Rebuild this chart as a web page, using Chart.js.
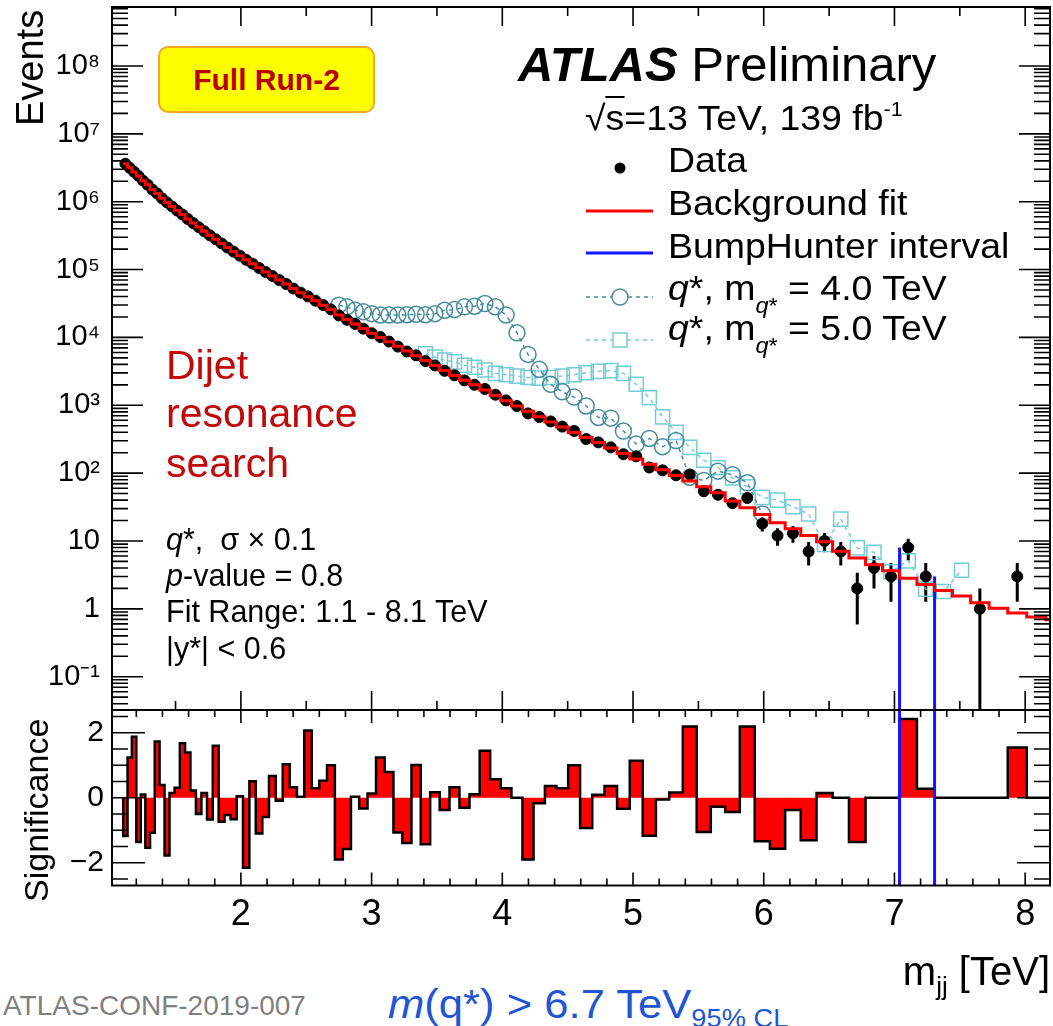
<!DOCTYPE html>
<html>
<head>
<meta charset="utf-8">
<title>Dijet invariant mass</title>
<script src="https://cdn.jsdelivr.net/npm/chart.js@4.4.1/dist/chart.umd.min.js"></script>
<style>
  body { margin: 0; background: #fff; }
  #page { position: relative; width: 1053px; height: 1026px; overflow: hidden;
          font-family: "Liberation Sans", Arial, Helvetica, sans-serif; }
  canvas { position: absolute; left: 0; }
  #mainCanvas { top: 0; }
  #sigCanvas { top: 700px; }
  .t { position: absolute; white-space: nowrap; line-height: 1; color: #000; z-index: 2; }
  .rot { transform: rotate(-90deg); transform-origin: left top; }
  .wide { transform: scaleX(1.07); transform-origin: left center; }
  .leg { font-size: 35px; left: 668px; }
  .info { font-size: 30.5px; left: 166px; }
  .dijet { font-size: 41px; left: 166px; color: #c20808; }
  .leg sub { font-size: 22px; vertical-align: -13px; line-height: 0; }
  #runBox { position: absolute; left: 158px; top: 46px; width: 217px; height: 67px; box-sizing: border-box;
            background: #ffff00; border: 2px solid #f5a623; border-radius: 10px; z-index: 2;
            display: flex; align-items: center; justify-content: center;
            font-weight: bold; font-size: 30px; color: #b80000; }
</style>
</head>
<body>
<div id="page">
  <canvas id="mainCanvas" width="1053" height="712"></canvas>
  <canvas id="sigCanvas" width="1053" height="270"></canvas>

  <div id="runBox">Full Run-2</div>
  <div class="t" style="left:518px; top:40px; font-size:49px;"><b><i>ATLAS</i></b> Preliminary</div>
  <div class="t wide" style="left:585px; top:100px; font-size:35px;">√<span style="border-top:2px solid #000;">s</span>=13 TeV, 139 fb<sup style="font-size:20px; vertical-align:14px; line-height:0;">-1</sup></div>

  <div class="t leg wide" style="top:142px;">Data</div>
  <div class="t leg wide" style="top:185px;">Background fit</div>
  <div class="t leg wide" style="top:228px;">BumpHunter interval</div>
  <div class="t leg wide" style="top:270px;"><i>q</i>*, m<sub><i>q</i>*</sub> = 4.0 TeV</div>
  <div class="t leg wide" style="top:310px;"><i>q</i>*, m<sub><i>q</i>*</sub> = 5.0 TeV</div>

  <div class="t dijet" style="top:345px;">Dijet</div>
  <div class="t dijet" style="top:393px;">resonance</div>
  <div class="t dijet" style="top:443px;">search</div>

  <div class="t info" style="top:524px;"><i>q</i>*,&nbsp;&nbsp;σ × 0.1</div>
  <div class="t info" style="top:560px;"><i>p</i>-value = 0.8</div>
  <div class="t info" style="top:596px;">Fit Range: 1.1 - 8.1 TeV</div>
  <div class="t info" style="top:633px;">|y*| &lt; 0.6</div>

  <div class="t rot" style="left:11px; top:126px; font-size:38px;">Events</div>
  <div class="t rot" style="left:19px; top:902px; font-size:34px;">Significance</div>

  <div class="t" style="right:3px; top:951px; font-size:40px;">m<sub style="font-size:26px; vertical-align:-10px; line-height:0;">jj</sub> [TeV]</div>
  <div class="t" style="left:3px; top:992px; font-size:28px; color:#7f7f7f;">ATLAS-CONF-2019-007</div>
  <div class="t" style="left:388px; top:984px; font-size:40px; color:#2255d4; transform:scaleX(1.09); transform-origin:left center;"><i>m</i>(q*) &gt; 6.7 TeV<sub style="font-size:25px; vertical-align:-9px; line-height:0;">95% CL</sub></div>
</div>

<script>
// dijet mass bin edges [TeV]
const binEdges = [1.100,1.133,1.166,1.200,1.234,1.269,1.305,1.341,1.378,1.416,1.454,1.493,1.533,1.573,1.614,
  1.656,1.698,1.741,1.785,1.830,1.875,1.921,1.968,2.016,2.065,2.114,2.164,2.215,2.267,2.320,2.374,2.429,
  2.485,2.542,2.600,2.659,2.719,2.780,2.842,2.905,2.969,3.034,3.100,3.167,3.235,3.305,3.376,3.448,3.521,
  3.596,3.672,3.749,3.827,3.907,3.988,4.070,4.154,4.239,4.326,4.414,4.504,4.595,4.688,4.782,4.878,4.975,
  5.074,5.175,5.277,5.381,5.487,5.595,5.705,5.817,5.931,6.047,6.164,6.283,6.404,6.527,6.652,6.779,6.908,
  7.039,7.172,7.307,7.444,7.583,7.724,7.867,8.012,8.159,8.308];

// background fit, events per bin
const fitCounts = [3630000,3160000,2750000,2400000,2040000,1780000,1510000,1320000,1120000,977000,
  851000,741000,646000,556000,484000,422000,367000,320000,279000,243000,
  211000,184000,160000,140000,122000,106000,92300,80400,70000,61000,
  52500,45700,39800,34700,29900,25700,21400,18400,15800,13500,
  11500,10000,8610,7410,6310,5370,4570,3850,3240,2750,
  2340,2000,1680,1410,1170,977,813,676,569,479,
  398,335,282,234,195,162,135,112,92.3,76.7,
  63.1,51.3,38.9,30.9,24.5,18.6,15.1,12.0,9.77,7.08,
  5.62,4.47,3.63,2.82,2.29,1.86,1.55,1.23,1.02,0.871,
  0.759,0.692];

// observed events per bin
const dataCounts = [3627750,3162205,2753117,2397893,2040143,1777946,1508673,1321988,1120413,975241,
  851138,741267,647351,557037,484153,421675,367091,319621,279845,242635,
  210757,183717,160020,139196,122178,105642,92121,80590,69976,61254,
  52573,45706,40213,34754,29990,25860,21122,18186,15804,13462,
  11514,10124,8683,7318,6200,5444,4473,3861,3218,2767,
  2325,2005,1739,1431,1180,975,759,672,578,485,
  418,318,284,240,190,177,121,110,93,95,
  54,48,36,43,18,12,13,7,10,7,
  2,4,3,8,3,0,0,1,0,3,
  0,0];

// bin-by-bin significance of data vs fit
const sigValues = [-1.18,1.24,1.88,-1.36,0.10,-1.54,-1.08,1.73,0.39,-1.78,
  0.15,0.31,1.68,1.39,0.22,-0.50,0.15,-0.67,1.60,-0.74,
  -0.53,-0.66,0.05,-2.15,0.51,-1.10,-0.59,0.67,-0.09,1.03,
  0.32,0.03,2.07,0.29,0.52,1.00,-1.90,-1.58,0.03,-0.33,
  0.13,1.24,0.79,-1.07,-1.39,1.01,-1.43,0.17,-0.38,0.32,
  -0.31,0.11,1.45,0.57,0.29,0.00,-1.90,-0.17,0.36,0.29,
  1.00,-0.93,0.09,0.36,-0.34,1.14,-1.17,-0.05,0.16,2.19,
  -1.05,-0.28,-0.44,2.19,-1.34,-1.57,-0.38,-1.31,0.15,0.00,
  -1.36,0.00,0.00,2.42,0.28,0.00,0.00,0.00,0.00,1.55,
  0.00,0.00];

// q* signal + background, m = 4.0 TeV (starts at bin 36)
const qStar4FirstBin = 36;
const qStar4Counts = [29900,28200,25100,23800,22400,21400,21400,21400,21600,21900,
  21600,22400,25100,25700,28200,28800,31600,28200,21400,11700,
  5620,3390,2040,1580,1320,977,661,646,417,269,
  324,245,302,87,78,107,95,72,25];

// q* signal + background, m = 5.0 TeV (starts at bin 46)
const qStar5FirstBin = 46;
const qStar5Counts = [5750,5130,4620,4370,3890,3630,3310,2950,2820,2690,
  2570,2510,2570,2690,2820,3020,3160,3240,2950,2040,
  1290,676,398,240,155,120,85,63,44,40,
  32,25,8.9,21,7.9,6.8,3.5,5.1,1.95,1.8,
  3.7];

const bumpInterval = [7.039, 7.307];

const xTickLabels = ['2', '3', '4', '5', '6', '7', '8'];
const yDecadeLabels = ['10⁻¹', '1', '10', '10²', '10³', '10⁴', '10⁵', '10⁶', '10⁷', '10⁸'];
const sigTickLabels = ['−2', '0', '2'];

const X_MIN = 1.014, X_MAX = 8.19;
const Y_MIN = 0.0323, Y_MAX = 7.4e8;
const SIG_MIN = -2.7, SIG_MAX = 2.7;

const Q4_COLOR = '#4a8c9c';
const Q5_COLOR = '#74ccd6';
const BLUE = '#1414ff';

Chart.defaults.font.family = '"Liberation Sans", Arial, sans-serif';
Chart.defaults.color = '#000';

const binCenters = binEdges.slice(0, -1).map((e, i) => (e + binEdges[i + 1]) / 2);

// histogram outline as a list of step points
function stepPoints(values, base) {
  const pts = [];
  if (base !== undefined) pts.push({ x: binEdges[0], y: base });
  values.forEach((v, i) => {
    pts.push({ x: binEdges[i], y: v });
    pts.push({ x: binEdges[i + 1], y: v });
  });
  if (base !== undefined) pts.push({ x: binEdges[binEdges.length - 1], y: base });
  return pts;
}

function isMultiple(v, m) {
  return Math.abs(v / m - Math.round(v / m)) < 1e-6;
}

// keep the plot frame exactly where the axis boxes put it
function fixWidth(w) {
  return s => { s.width = w; s.paddingTop = 0; s.paddingBottom = 0; s.paddingLeft = 0; s.paddingRight = 0; };
}
function fixHeight(h) {
  return s => { s.height = h; s.paddingTop = 0; s.paddingBottom = 0; s.paddingLeft = 0; s.paddingRight = 0; };
}

// frame with inward ticks on all four sides
const frameTicks = {
  id: 'frameTicks',
  afterDatasetsDraw(chart, args, o) {
    const { ctx, chartArea: a } = chart;
    const xs = chart.scales.x, ys = chart.scales.y;
    ctx.save();
    ctx.strokeStyle = '#000';
    ctx.lineWidth = 1.6;
    ctx.beginPath();
    const i0 = Math.ceil(X_MIN / o.xStep - 1e-9);
    for (let i = i0; i * o.xStep <= X_MAX + 1e-9; i++) {
      const v = i * o.xStep;
      const px = xs.getPixelForValue(v);
      const len = isMultiple(v, 1) ? o.xMajLen : o.xMinLen;
      ctx.moveTo(px, a.bottom); ctx.lineTo(px, a.bottom - len);
      ctx.moveTo(px, a.top); ctx.lineTo(px, a.top + len);
    }
    const yVals = [];
    if (o.log) {
      for (let n = Math.floor(Math.log10(ys.min)); n <= Math.ceil(Math.log10(ys.max)); n++) {
        for (let k = 1; k <= 9; k++) {
          const v = k * Math.pow(10, n);
          if (v >= ys.min && v <= ys.max) yVals.push([v, k === 1]);
        }
      }
    } else {
      const j0 = Math.ceil(ys.min / o.yStep - 1e-9);
      for (let j = j0; j * o.yStep <= ys.max + 1e-9; j++) {
        const v = j * o.yStep;
        yVals.push([v, isMultiple(v, o.yMajor)]);
      }
    }
    yVals.forEach(([v, major]) => {
      const py = ys.getPixelForValue(v);
      const len = major ? o.yMajLen : o.yMinLen;
      ctx.moveTo(a.left, py); ctx.lineTo(a.left + len, py);
      ctx.moveTo(a.right, py); ctx.lineTo(a.right - len, py);
    });
    ctx.stroke();
    ctx.lineWidth = 2;
    ctx.strokeRect(a.left, a.top, a.right - a.left, a.bottom - a.top);
    ctx.restore();
  }
};

// sqrt(N) error bars on the data points
const errorBars = {
  id: 'errorBars',
  beforeDatasetsDraw(chart) {
    const { ctx, chartArea: a } = chart;
    const xs = chart.scales.x, ys = chart.scales.y;
    ctx.save();
    ctx.beginPath();
    ctx.rect(a.left, a.top, a.right - a.left, a.bottom - a.top);
    ctx.clip();
    ctx.strokeStyle = '#000';
    ctx.lineWidth = 3;
    ctx.beginPath();
    dataCounts.forEach((n, i) => {
      if (n <= 0) return;
      const err = Math.sqrt(n);
      const px = xs.getPixelForValue(binCenters[i]);
      const lo = n - err > 0 ? ys.getPixelForValue(n - err) : a.bottom;
      ctx.moveTo(px, lo);
      ctx.lineTo(px, ys.getPixelForValue(n + err));
    });
    ctx.stroke();
    ctx.restore();
  }
};

// legend symbols next to the html labels
const legendMarks = {
  id: 'legendMarks',
  afterDraw(chart) {
    const ctx = chart.ctx;
    const x0 = 586, x1 = 653, xc = 620;
    ctx.save();
    ctx.fillStyle = '#000';
    ctx.beginPath(); ctx.arc(xc, 168, 5.5, 0, Math.PI * 2); ctx.fill();
    ctx.lineWidth = 3;
    ctx.strokeStyle = '#ff0000';
    ctx.beginPath(); ctx.moveTo(x0, 211); ctx.lineTo(x1, 211); ctx.stroke();
    ctx.strokeStyle = BLUE;
    ctx.beginPath(); ctx.moveTo(x0, 253); ctx.lineTo(x1, 253); ctx.stroke();
    ctx.lineWidth = 1.5;
    ctx.setLineDash([4, 4]);
    ctx.strokeStyle = Q4_COLOR;
    ctx.beginPath(); ctx.moveTo(x0, 297); ctx.lineTo(xc - 8, 297); ctx.moveTo(xc + 8, 297); ctx.lineTo(x1, 297); ctx.stroke();
    ctx.strokeStyle = Q5_COLOR;
    ctx.beginPath(); ctx.moveTo(x0, 340); ctx.lineTo(xc - 7, 340); ctx.moveTo(xc + 7, 340); ctx.lineTo(x1, 340); ctx.stroke();
    ctx.setLineDash([]);
    ctx.strokeStyle = Q4_COLOR;
    ctx.beginPath(); ctx.arc(xc, 297, 8, 0, Math.PI * 2); ctx.stroke();
    ctx.strokeStyle = Q5_COLOR;
    ctx.strokeRect(xc - 7, 333, 14, 14);
    ctx.restore();
  }
};

const lowBin = binEdges.indexOf(bumpInterval[0]);
const highBin = binEdges.indexOf(bumpInterval[1]) - 1;

new Chart(document.getElementById('mainCanvas'), {
  type: 'line',
  data: {
    datasets: [
      {
        label: 'Background fit',
        data: stepPoints(fitCounts),
        borderColor: '#ff0000', borderWidth: 3, pointRadius: 0, fill: false, order: 0
      },
      {
        label: 'BumpHunter interval',
        data: [{ x: bumpInterval[0], y: Y_MIN }, { x: bumpInterval[0], y: dataCounts[lowBin] }],
        borderColor: BLUE, borderWidth: 3, pointRadius: 0, fill: false, order: 1
      },
      {
        label: 'BumpHunter interval (high)',
        data: [{ x: bumpInterval[1], y: Y_MIN }, { x: bumpInterval[1], y: dataCounts[highBin] }],
        borderColor: BLUE, borderWidth: 3, pointRadius: 0, fill: false, order: 1
      },
      {
        label: 'Data',
        data: binCenters.map((c, i) => ({ x: c, y: dataCounts[i] > 0 ? dataCounts[i] : null })),
        showLine: false, pointRadius: 5.5, pointBackgroundColor: '#000',
        pointBorderColor: '#000', pointBorderWidth: 1, order: 2
      },
      {
        label: 'q*, m = 4.0 TeV',
        data: qStar4Counts.map((v, i) => ({ x: binCenters[qStar4FirstBin + i], y: v })),
        borderColor: Q4_COLOR, borderWidth: 1.5, borderDash: [4, 4],
        pointStyle: 'circle', pointRadius: 8, pointBorderWidth: 1.5,
        pointBorderColor: Q4_COLOR, pointBackgroundColor: 'rgba(0,0,0,0)', fill: false, order: 3
      },
      {
        label: 'q*, m = 5.0 TeV',
        data: qStar5Counts.map((v, i) => ({ x: binCenters[qStar5FirstBin + i], y: v })),
        borderColor: Q5_COLOR, borderWidth: 1.5, borderDash: [4, 4],
        pointStyle: 'rect', pointRadius: 10, pointBorderWidth: 1.5,
        pointBorderColor: Q5_COLOR, pointBackgroundColor: 'rgba(0,0,0,0)', fill: false, order: 4
      }
    ]
  },
  options: {
    responsive: false,
    devicePixelRatio: 1,
    animation: false,
    events: [],
    layout: { autoPadding: false, padding: { left: 0, right: 3, top: 7, bottom: 2 } },
    plugins: {
      legend: { display: false },
      tooltip: { enabled: false },
      frameTicks: { xStep: 0.5, xMajLen: 19, xMinLen: 9, log: true, yMajLen: 31, yMinLen: 16 }
    },
    scales: {
      x: {
        type: 'linear', min: X_MIN, max: X_MAX,
        grid: { display: false, drawTicks: false },
        border: { display: false },
        ticks: { display: false },
        afterFit: fixHeight(0)
      },
      y: {
        type: 'logarithmic', min: Y_MIN, max: Y_MAX,
        grid: { display: false, drawTicks: false },
        border: { display: false },
        afterFit: fixWidth(112),
        ticks: {
          autoSkip: false, padding: 12, font: { size: 29 },
          callback: v => {
            const e = Math.log10(v), n = Math.round(e);
            if (Math.abs(e - n) > 1e-6) return '';
            return yDecadeLabels[n + 1] || '';
          }
        }
      }
    }
  },
  plugins: [errorBars, frameTicks, legendMarks]
});

new Chart(document.getElementById('sigCanvas'), {
  type: 'line',
  data: {
    datasets: [
      {
        label: 'Significance',
        data: stepPoints(sigValues, 0),
        borderColor: '#000', borderWidth: 2.5, backgroundColor: '#ff0000',
        fill: 'origin', pointRadius: 0, order: 1
      },
      {
        label: 'BumpHunter low',
        data: [{ x: bumpInterval[0], y: SIG_MIN }, { x: bumpInterval[0], y: SIG_MAX }],
        borderColor: BLUE, borderWidth: 3, pointRadius: 0, fill: false, order: 0
      },
      {
        label: 'BumpHunter high',
        data: [{ x: bumpInterval[1], y: SIG_MIN }, { x: bumpInterval[1], y: SIG_MAX }],
        borderColor: BLUE, borderWidth: 3, pointRadius: 0, fill: false, order: 0
      }
    ]
  },
  options: {
    responsive: false,
    devicePixelRatio: 1,
    animation: false,
    events: [],
    layout: { autoPadding: false, padding: { left: 0, right: 3, top: 10, bottom: 0 } },
    plugins: {
      legend: { display: false },
      tooltip: { enabled: false },
      frameTicks: { xStep: 0.2, xMajLen: 13, xMinLen: 7, yStep: 0.5, yMajor: 2, yMajLen: 33, yMinLen: 16 }
    },
    scales: {
      x: {
        type: 'linear', min: X_MIN, max: X_MAX,
        grid: { display: false, drawTicks: false },
        border: { display: false },
        afterFit: fixHeight(84.5),
        ticks: {
          stepSize: 1, includeBounds: false, autoSkip: false, maxRotation: 0,
          padding: 8, font: { size: 36 },
          callback: v => (Number.isInteger(v) && xTickLabels[v - 2]) || ''
        }
      },
      y: {
        type: 'linear', min: SIG_MIN, max: SIG_MAX,
        grid: { display: false, drawTicks: false },
        border: { display: false },
        afterFit: fixWidth(112),
        ticks: {
          stepSize: 1, includeBounds: false, autoSkip: false, padding: 8, font: { size: 30 },
          callback: v => (isMultiple(v, 2) && sigTickLabels[v / 2 + 1]) || ''
        }
      }
    }
  },
  plugins: [frameTicks]
});
</script>
</body>
</html>
